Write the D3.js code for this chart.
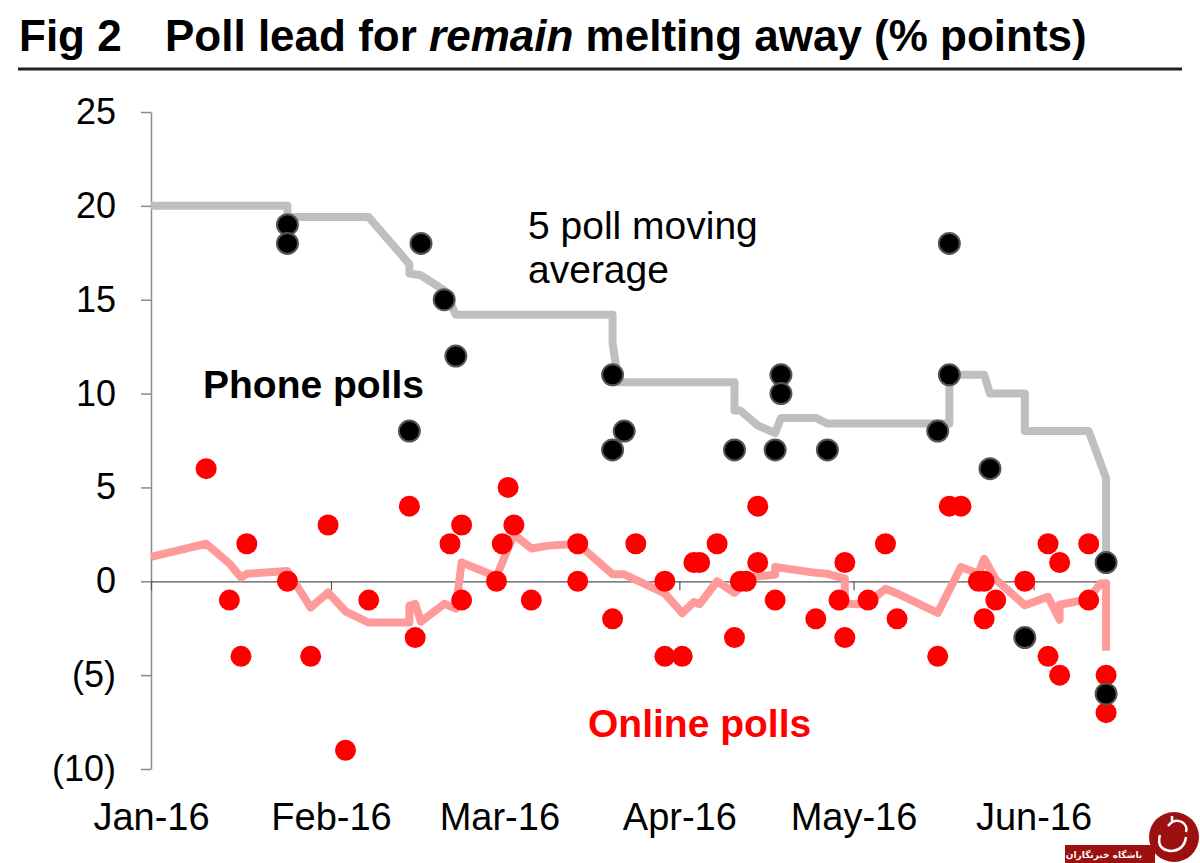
<!DOCTYPE html>
<html>
<head>
<meta charset="utf-8">
<script src="https://cdn.jsdelivr.net/npm/d3@7"></script>
<style>
  body { margin: 0; background: #fff; }
  svg { display: block; font-family: "Liberation Sans", Arial, Helvetica, sans-serif; }
</style>
</head>
<body>
<div id="wrapper"></div>
<script>
// phone polls (black dots)
const phoneDates = [
  "2016-01-24", "2016-01-24", "2016-02-14", "2016-02-16", "2016-02-20", "2016-02-22",
  "2016-03-20", "2016-03-20", "2016-03-22", "2016-04-10", "2016-04-17", "2016-04-18",
  "2016-04-18", "2016-04-26", "2016-05-15", "2016-05-17", "2016-05-17", "2016-05-24",
  "2016-05-30", "2016-06-13", "2016-06-13"
]
const phoneValues = [
  19, 18, 8, 18, 15, 12,
  11, 7, 8, 7, 7, 11,
  10, 7, 8, 18, 11, 6,
  -3, 1, -6
]

// online polls (red dots)
const onlineDates = [
  "2016-01-10", "2016-01-14", "2016-01-16", "2016-01-17", "2016-01-24", "2016-01-28",
  "2016-01-31", "2016-02-03", "2016-02-07", "2016-02-14", "2016-02-15", "2016-02-21",
  "2016-02-23", "2016-02-23", "2016-02-29", "2016-03-01", "2016-03-02", "2016-03-03",
  "2016-03-06", "2016-03-14", "2016-03-14", "2016-03-20", "2016-03-24", "2016-03-29",
  "2016-03-29", "2016-04-01", "2016-04-03", "2016-04-04", "2016-04-07", "2016-04-10",
  "2016-04-11", "2016-04-12", "2016-04-14", "2016-04-14", "2016-04-17", "2016-04-24",
  "2016-04-28", "2016-04-29", "2016-04-29", "2016-05-03", "2016-05-06", "2016-05-08",
  "2016-05-15", "2016-05-17", "2016-05-19", "2016-05-22", "2016-05-23", "2016-05-23",
  "2016-05-25", "2016-05-30", "2016-06-03", "2016-06-03", "2016-06-05", "2016-06-05",
  "2016-06-10", "2016-06-10", "2016-06-13", "2016-06-13"
]
const onlineValues = [
  6, -1, -4, 2, 0, -4,
  3, -9, -1, 4, -3, 2,
  3, -1, 0, 2, 5, 3,
  -1, 2, 0, -2, 2, 0,
  -4, -4, 1, 1, 2, -3,
  0, 0, 4, 1, -1, -2,
  -1, 1, -3, -1, 2, -2,
  -4, 4, 4, 0, 0, -2,
  -1, 0, 2, -4, 1, -5,
  2, -1, -5, -7
]

// 5 poll moving average, phone (grey line)
const phoneAvgDates = [
  "2016-01-01", "2016-01-24", "2016-01-24", "2016-02-07", "2016-02-14", "2016-02-14",
  "2016-02-16", "2016-02-20", "2016-02-22", "2016-03-20", "2016-03-20", "2016-03-21",
  "2016-04-10", "2016-04-10", "2016-04-11", "2016-04-14", "2016-04-17", "2016-04-18",
  "2016-04-24", "2016-04-26", "2016-05-17", "2016-05-17", "2016-05-23", "2016-05-24",
  "2016-05-30", "2016-05-30", "2016-06-10", "2016-06-13", "2016-06-13"
]
const phoneAvgValues = [
  20, 20, 19.4, 19.4, 16.9, 16.4,
  16.3, 15.5, 14.2, 14.2, 12.7, 10.6,
  10.6, 9.1, 9.1, 8.3, 7.9, 8.7,
  8.7, 8.4, 8.4, 11, 11, 10,
  10, 8, 8, 5.5, 1
]

// 5 poll moving average, online (pink line)
const onlineAvgDates = [
  "2016-01-01", "2016-01-10", "2016-01-14", "2016-01-16", "2016-01-17", "2016-01-24",
  "2016-01-28", "2016-01-31", "2016-02-03", "2016-02-07", "2016-02-14", "2016-02-14",
  "2016-02-15", "2016-02-16", "2016-02-20", "2016-02-22", "2016-02-23", "2016-02-29",
  "2016-03-02", "2016-03-03", "2016-03-06", "2016-03-09", "2016-03-14", "2016-03-20",
  "2016-03-22", "2016-03-29", "2016-04-01", "2016-04-03", "2016-04-04", "2016-04-07",
  "2016-04-10", "2016-04-13", "2016-04-17", "2016-04-17", "2016-04-24", "2016-04-26",
  "2016-04-29", "2016-04-29", "2016-05-01", "2016-05-03", "2016-05-06", "2016-05-08",
  "2016-05-15", "2016-05-19", "2016-05-22", "2016-05-23", "2016-05-25", "2016-05-30",
  "2016-06-03", "2016-06-05", "2016-06-05", "2016-06-10", "2016-06-12", "2016-06-13",
  "2016-06-13"
]
const onlineAvgValues = [
  1.3, 2.0, 0.95, 0.2, 0.4, 0.55,
  -1.4, -0.6, -1.6, -2.2, -2.2, -1.3,
  -1.2, -2.15, -1.2, -1.45, 1.0, 0.25,
  1.75, 2.5, 1.75, 1.9, 2.0, 0.37,
  0.37, -0.65, -1.7, -1.1, -1.22, 0.0,
  -0.62, 0.23, 0.35, 0.76, 0.45, 0.4,
  0.14, -1.19, -1.22, -1.15, -0.4, -0.65,
  -1.68, 0.76, 0.4, 1.2, 0.1, -1.28,
  -0.83, -2.05, -1.25, -0.95, -0.12, -0.1,
  -3.7
]

const yTicks = [-10, -5, 0, 5, 10, 15, 20, 25]
const monthTicks = ["2016-01-01", "2016-02-01", "2016-03-01", "2016-04-01", "2016-05-01", "2016-06-01"]

const titleFig = "Fig 2"
const titleParts = ["Poll lead for ", "remain", " melting away (% points)"]

// ---- setup
const width = 1200
const height = 863

const parseDate = d3.utcParse("%Y-%m-%d")
// polls sit in the middle of their day
const midDay = s => d3.utcHour.offset(parseDate(s), 12)

const svg = d3.select("#wrapper")
  .append("svg")
    .attr("width", width)
    .attr("height", height)

const xScale = d3.scaleUtc()
  .domain([parseDate("2016-01-01"), parseDate("2016-06-14")])
  .range([151, 1109])

const yScale = d3.scaleLinear()
  .domain([-10, 25])
  .range([769, 112])

// ---- title
const title = svg.append("text")
  .attr("x", 19)
  .attr("y", 51)
  .attr("font-size", 44)
  .attr("font-weight", "bold")
  .attr("fill", "#000")
title.append("tspan").text(titleFig)
const titleRest = svg.append("text")
  .attr("x", 165)
  .attr("y", 51)
  .attr("font-size", 44)
  .attr("font-weight", "bold")
  .attr("fill", "#000")
titleRest.selectAll("tspan")
  .data(titleParts)
  .join("tspan")
    .attr("font-style", (d, i) => i == 1 ? "italic" : "normal")
    .text(d => d)

svg.append("line")
  .attr("x1", 18).attr("x2", 1182)
  .attr("y1", 69).attr("y2", 69)
  .attr("stroke", "#222")
  .attr("stroke-width", 3)

// ---- y axis
const fmt = v => v < 0 ? `(${Math.abs(v)})` : `${v}`
const yAxis = svg.append("g")
  .attr("transform", `translate(${xScale.range()[0]},0)`)
  .call(d3.axisLeft(yScale).tickValues(yTicks).tickFormat(fmt).tickSizeInner(10).tickSizeOuter(0).tickPadding(25))
yAxis.select(".domain").attr("stroke", "#8c8c8c").attr("stroke-width", 1.5)
yAxis.selectAll(".tick line").attr("stroke", "#8c8c8c").attr("stroke-width", 1.5)
yAxis.selectAll(".tick text")
  .attr("font-size", 36)
  .attr("font-family", "Liberation Sans, Arial, sans-serif")
  .attr("fill", "#000")

// ---- x axis at zero
const xAxis = svg.append("g")
  .attr("transform", `translate(0,${yScale(0)})`)
  .call(d3.axisBottom(xScale).tickValues(monthTicks.map(parseDate)).tickFormat(d3.utcFormat("%b-16")).tickSizeInner(9).tickSizeOuter(0).tickPadding(0))
xAxis.select(".domain").attr("stroke", "#555").attr("stroke-width", 1.2)
xAxis.selectAll(".tick line").attr("stroke", "#555").attr("stroke-width", 1.2)
xAxis.selectAll(".tick text")
  .attr("font-size", 38)
  .attr("font-family", "Liberation Sans, Arial, sans-serif")
  .attr("fill", "#000")
  .attr("dy", 0)
  .attr("y", 830 - yScale(0))

// ---- moving average lines
const lineGen = d3.line()
  .x(d => xScale(d[0]))
  .y(d => yScale(d[1]))

const onlineAvg = onlineAvgDates.map((d, i) => [midDay(d), onlineAvgValues[i]])
onlineAvg[0][0] = parseDate(onlineAvgDates[0])
const phoneAvg = phoneAvgDates.map((d, i) => [midDay(d), phoneAvgValues[i]])
phoneAvg[0][0] = parseDate(phoneAvgDates[0])

svg.append("path")
  .datum(onlineAvg)
  .attr("d", lineGen)
  .attr("fill", "none")
  .attr("stroke", "#ff9a9a")
  .attr("stroke-width", 8)
  .attr("stroke-linejoin", "round")

svg.append("path")
  .datum(phoneAvg)
  .attr("d", lineGen)
  .attr("fill", "none")
  .attr("stroke", "#bfbfbf")
  .attr("stroke-width", 8)
  .attr("stroke-linejoin", "round")

// ---- dots
svg.append("g")
  .selectAll("circle")
  .data(onlineDates.map((d, i) => [midDay(d), onlineValues[i]]))
  .join("circle")
    .attr("cx", d => xScale(d[0]))
    .attr("cy", d => yScale(d[1]))
    .attr("r", 10.5)
    .attr("fill", "#ff0000")

svg.append("g")
  .selectAll("circle")
  .data(phoneDates.map((d, i) => [midDay(d), phoneValues[i]]))
  .join("circle")
    .attr("cx", d => xScale(d[0]))
    .attr("cy", d => yScale(d[1]))
    .attr("r", 10.5)
    .attr("fill", "#000")
    .attr("stroke", "#555")
    .attr("stroke-width", 2)

// ---- labels
svg.append("text")
  .attr("x", 203).attr("y", 398)
  .attr("font-size", 39)
  .attr("font-weight", "bold")
  .text("Phone polls")

svg.append("text")
  .attr("x", 528).attr("y", 239)
  .attr("font-size", 39)
  .text("5 poll moving")
svg.append("text")
  .attr("x", 528).attr("y", 283)
  .attr("font-size", 39)
  .text("average")

svg.append("text")
  .attr("x", 588).attr("y", 737)
  .attr("font-size", 39)
  .attr("font-weight", "bold")
  .attr("fill", "#ff0000")
  .text("Online polls")

// ---- watermark
const wm = svg.append("g")
wm.append("rect")
  .attr("x", 1065).attr("y", 845)
  .attr("width", 90).attr("height", 18)
  .attr("fill", "#9c1010")
wm.append("circle")
  .attr("cx", 1174).attr("cy", 837)
  .attr("r", 25)
  .attr("fill", "#9c1010")
wm.append("path")
  .attr("d", "M1160,835 q-4,14 10,16 q14,0 16,-14 M1168,826 q6,-8 14,-4 q6,4 4,10 M1172,822 l0,-6")
  .attr("fill", "none")
  .attr("stroke", "#fff")
  .attr("stroke-width", 2.5)
wm.append("text")
  .attr("x", 1104).attr("y", 858)
  .attr("text-anchor", "middle")
  .attr("direction", "rtl")
  .attr("font-size", 9)
  .attr("font-weight", "bold")
  .attr("font-family", "DejaVu Sans, sans-serif")
  .attr("fill", "#fff")
  .text("باشگاه خبرنگاران")
</script>
</body>
</html>
